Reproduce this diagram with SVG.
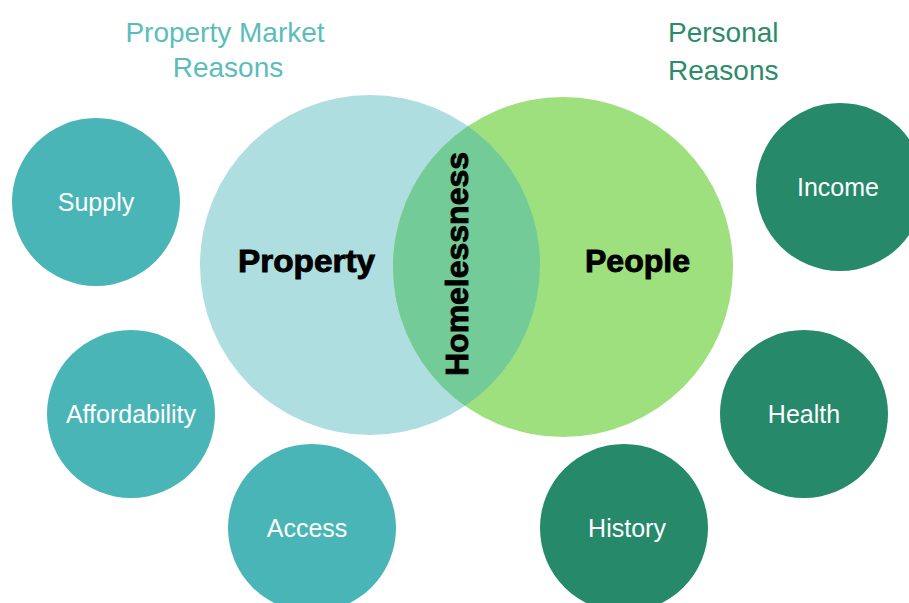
<svg xmlns="http://www.w3.org/2000/svg" width="909" height="603" viewBox="0 0 909 603">
<style>
.title{font-family:"Liberation Sans",Arial,sans-serif;font-size:28px}
.t1{fill:#5BBDBB}
.t2{fill:#2E8B6A}
.small{font-family:"Liberation Sans",Arial,sans-serif;font-size:25px;fill:#FFFFFF;text-anchor:middle}
.big{font-family:"Liberation Sans",Arial,sans-serif;font-weight:bold;font-size:32px;fill:#000000;stroke:#000000;stroke-width:0.9}
.teal{fill:#4AB5B7}
.dark{fill:#25896A}
</style>
<rect width="909" height="603" fill="#FFFFFF"/>
<g id="titles">
<text class="title t1" x="225" y="42" text-anchor="middle">Property Market</text>
<text class="title t1" x="228" y="77" text-anchor="middle">Reasons</text>
<text class="title t2" x="668" y="42">Personal</text>
<text class="title t2" x="668" y="80">Reasons</text>
</g>
<g id="connectors"></g>
<g id="property">
<circle cx="370" cy="265" r="170" fill="#AEDEDF"/>
</g>
<g id="people">
<circle cx="563" cy="267" r="170" fill="#9EE07E"/>
</g>
<g id="homelessness">
<clipPath id="clipP"><circle cx="370" cy="265" r="170"/></clipPath>
<circle cx="563" cy="267" r="170" fill="#73CC97" clip-path="url(#clipP)"/>
<text class="big" transform="translate(468,264) rotate(-90)" text-anchor="middle" font-size="35" textLength="224" lengthAdjust="spacingAndGlyphs">Homelessness</text>
</g>
<g id="property-label"><text class="big" x="238" y="272" textLength="137" lengthAdjust="spacingAndGlyphs">Property</text></g>
<g id="people-label"><text class="big" x="585" y="272" textLength="105" lengthAdjust="spacingAndGlyphs">People</text></g>
<g id="supply"><circle class="teal" cx="96" cy="202" r="84"/><text class="small" x="96" y="211">Supply</text></g>
<g id="affordability"><circle class="teal" cx="131" cy="414" r="84"/><text class="small" x="131" y="423">Affordability</text></g>
<g id="access"><circle class="teal" cx="312" cy="528" r="84"/><text class="small" x="307" y="537">Access</text></g>
<g id="income"><circle class="dark" cx="840" cy="187" r="84"/><text class="small" x="838" y="196">Income</text></g>
<g id="health"><circle class="dark" cx="804" cy="414" r="84"/><text class="small" x="804" y="423">Health</text></g>
<g id="history"><circle class="dark" cx="624" cy="528" r="84"/><text class="small" x="627" y="537">History</text></g>
</svg>
